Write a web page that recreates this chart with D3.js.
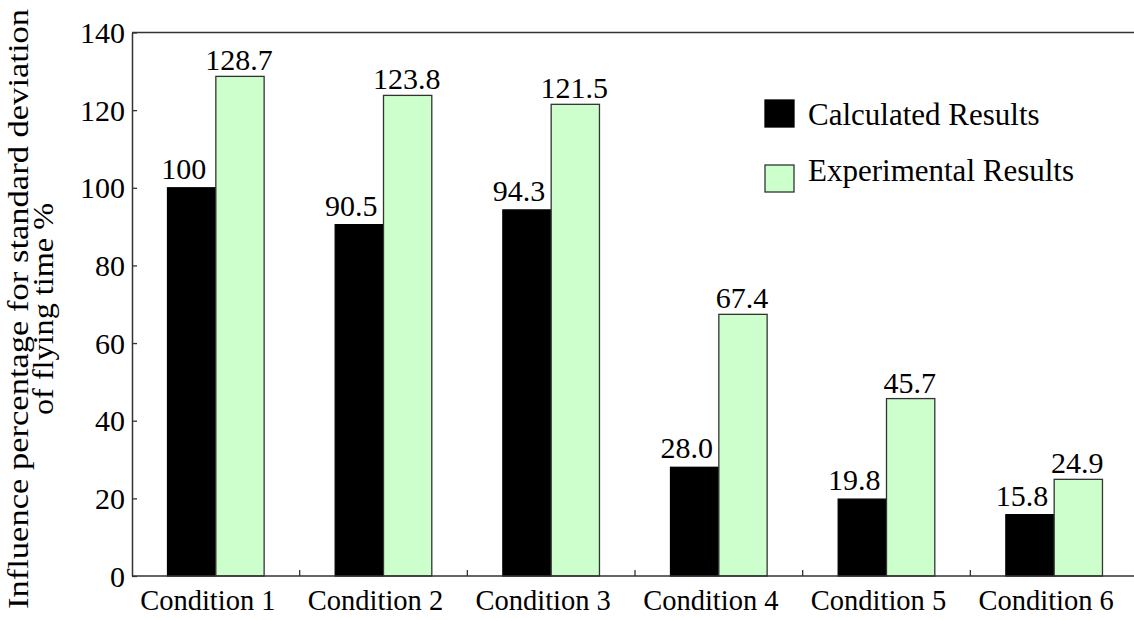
<!DOCTYPE html>
<html>
<head>
<meta charset="utf-8">
<script src="https://cdn.jsdelivr.net/npm/d3@7"></script>
<style>
  html, body { margin: 0; padding: 0; background: #fff; }
  svg { display: block; }
  svg text { font-family: "Liberation Serif", "Times New Roman", serif !important; }
</style>
</head>
<body>
<svg id="chart" width="1134" height="620"></svg>
<script>
// Chart data
const categories = ["Condition 1", "Condition 2", "Condition 3", "Condition 4", "Condition 5", "Condition 6"];
const seriesNames = ["Calculated Results", "Experimental Results"];
const calculated = [100, 90.5, 94.3, 28.0, 19.8, 15.8];
const experimental = [128.7, 123.8, 121.5, 67.4, 45.7, 24.9];
const calculatedLabels = ["100", "90.5", "94.3", "28.0", "19.8", "15.8"];
const experimentalLabels = ["128.7", "123.8", "121.5", "67.4", "45.7", "24.9"];
const yTicks = [0, 20, 40, 60, 80, 100, 120, 140];

const svg = d3.select("#chart");
const margin = { left: 132, top: 32.5, bottom: 576, right: 1138 };
const axisColor = "#333";
const fills = ["#000000", "#ccffcc"];

const x = d3.scaleBand().domain(categories).range([margin.left, margin.right]).paddingInner(0).paddingOuter(0);
const inner = d3.scaleBand().domain([0, 1]).range([-48.3, 48.3]);
const y = d3.scaleLinear().domain([0, 140]).range([margin.bottom, margin.top]);

// Frame: top edge
svg.append("line")
  .attr("x1", margin.left).attr("x2", margin.right)
  .attr("y1", margin.top).attr("y2", margin.top)
  .attr("stroke", axisColor).attr("stroke-width", 1.5);

// Bars
const rows = categories.map((c, i) => ({ c, vals: [calculated[i], experimental[i]], labels: [calculatedLabels[i], experimentalLabels[i]] }));
const groups = svg.append("g").selectAll("g").data(rows).join("g")
  .attr("transform", d => `translate(${x(d.c) + x.bandwidth() / 2},0)`);

groups.selectAll("rect").data(d => d.vals.map((v, k) => ({ v, k }))).join("rect")
  .attr("x", d => inner(d.k))
  .attr("width", inner.bandwidth())
  .attr("y", d => y(d.v))
  .attr("height", d => y(0) - y(d.v))
  .attr("fill", d => fills[d.k])
  .attr("stroke", d => d.k === 0 ? "#000" : axisColor)
  .attr("stroke-width", 1.3);

// Value labels
groups.selectAll("text.val").data(d => d.vals.map((v, k) => ({ v, k, t: d.labels[k] }))).join("text")
  .attr("class", "val")
  .attr("x", d => inner(d.k) + inner.bandwidth() / 2 - (d.k === 0 ? 8 : 1))
  .attr("y", d => y(d.v) - (d.k === 0 ? 9 : 6))
  .attr("text-anchor", "middle")
  .attr("font-size", 30)
  .attr("fill", "#000")
  .text(d => d.t);

// Y axis
const yAxis = svg.append("g")
  .attr("transform", `translate(${margin.left},0)`)
  .call(d3.axisLeft(y).tickValues(yTicks).tickSizeInner(-5).tickSizeOuter(0).tickPadding(7));
yAxis.select(".domain").attr("stroke", axisColor).attr("stroke-width", 1.5);
yAxis.selectAll(".tick line").attr("stroke", axisColor).attr("stroke-width", 1.3);
yAxis.selectAll(".tick text")
  .attr("font-size", 30).attr("fill", "#000")
  .attr("dy", "0.34em");

// X axis: ticks at the group boundaries
const xAxis = svg.append("g")
  .attr("transform", `translate(0,${margin.bottom})`);
xAxis.append("line")
  .attr("x1", margin.left).attr("x2", margin.right)
  .attr("stroke", axisColor).attr("stroke-width", 1.5);
xAxis.selectAll("line.tk").data(categories.slice(1)).join("line")
  .attr("class", "tk")
  .attr("x1", d => x(d)).attr("x2", d => x(d))
  .attr("y1", 0).attr("y2", -6)
  .attr("stroke", axisColor).attr("stroke-width", 1.3);
xAxis.selectAll("text").data(categories).join("text")
  .attr("x", d => x(d) + x.bandwidth() / 2 - 8)
  .attr("y", 34)
  .attr("text-anchor", "middle")
  .attr("font-size", 28.5)
  .attr("fill", "#000")
  .text(d => d);

// Y axis title (two lines, rotated)
const title = svg.append("text")
  .attr("transform", `translate(0,309) rotate(-90)`)
  .attr("text-anchor", "middle")
  .attr("font-size", 29)
  .attr("fill", "#000");
title.append("tspan").attr("x", 0).attr("y", 28)
  .attr("textLength", 600).attr("lengthAdjust", "spacingAndGlyphs")
  .text("Influence percentage for standard deviation");
title.append("tspan").attr("x", 0).attr("y", 53)
  .attr("textLength", 212).attr("lengthAdjust", "spacingAndGlyphs")
  .text("of flying time %");

// Legend
const legend = svg.append("g").attr("transform", "translate(765,100)");
legend.selectAll("rect").data(seriesNames).join("rect")
  .attr("y", (d, i) => i * 65)
  .attr("width", 29).attr("height", 27)
  .attr("fill", (d, i) => fills[i])
  .attr("stroke", (d, i) => i === 0 ? "#000" : axisColor)
  .attr("stroke-width", 1.3);
legend.selectAll("text").data(seriesNames).join("text")
  .attr("x", 43).attr("y", (d, i) => 25 + i * 56)
  .attr("font-size", 31)
  .attr("fill", "#000")
  .text(d => d);
</script>
</body>
</html>
